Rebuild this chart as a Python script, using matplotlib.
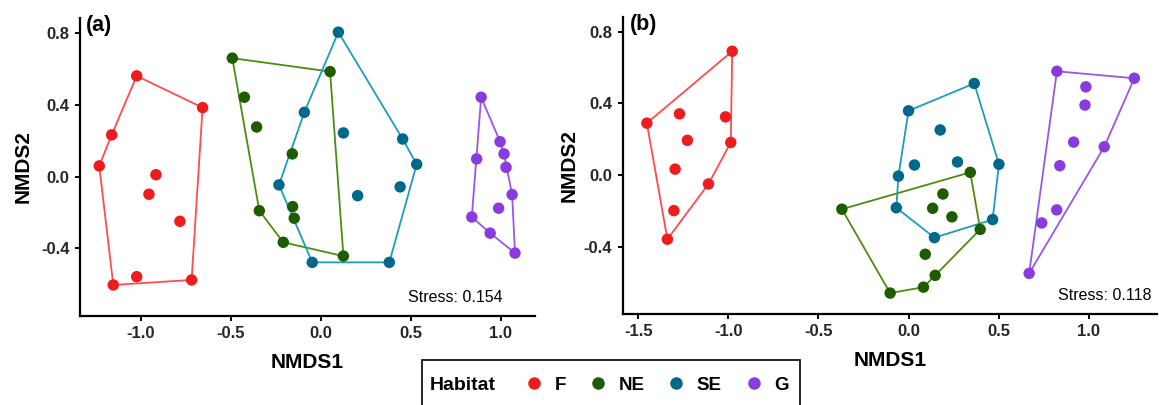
import numpy as np
import matplotlib
matplotlib.use('Agg')
import matplotlib.pyplot as plt
from matplotlib.patches import Polygon, Rectangle
from matplotlib.lines import Line2D

plt.rcParams['font.family'] = ['Liberation Sans', 'DejaVu Sans']

# NMDS scores, panel (a)
a_F_x = [-1.022, -0.656, -1.161, -1.230, -0.915, -0.954, -0.782, -1.022, -1.152, -0.717]
a_F_y = [0.562, 0.385, 0.233, 0.060, 0.011, -0.098, -0.249, -0.558, -0.604, -0.576]
a_NE_x = [-0.491, 0.052, -0.424, -0.356, -0.158, -0.341, -0.156, -0.147, -0.208, 0.126]
a_NE_y = [0.661, 0.586, 0.443, 0.277, 0.127, -0.190, -0.167, -0.232, -0.366, -0.443]
a_SE_x = [0.098, -0.091, 0.126, 0.455, 0.533, -0.232, 0.441, 0.205, -0.047, 0.381]
a_SE_y = [0.806, 0.359, 0.244, 0.210, 0.069, -0.046, -0.057, -0.106, -0.478, -0.478]
a_G_x = [0.891, 0.996, 1.018, 0.866, 1.029, 1.063, 0.988, 0.839, 0.941, 1.079]
a_G_y = [0.443, 0.195, 0.127, 0.099, 0.052, -0.100, -0.176, -0.225, -0.315, -0.426]

# panel (b)
b_F_x = [-0.979, -1.453, -1.272, -1.016, -1.228, -0.987, -1.296, -1.111, -1.303, -1.339]
b_F_y = [0.692, 0.290, 0.342, 0.325, 0.194, 0.182, 0.033, -0.050, -0.199, -0.359]
b_NE_x = [-0.370, 0.343, 0.191, 0.134, 0.241, 0.398, 0.093, 0.148, 0.083, -0.102]
b_NE_y = [-0.191, 0.015, -0.106, -0.186, -0.234, -0.304, -0.443, -0.561, -0.627, -0.660]
b_SE_x = [0.365, 0.000, 0.176, 0.033, 0.272, 0.502, -0.056, -0.068, 0.467, 0.144]
b_SE_y = [0.512, 0.359, 0.252, 0.056, 0.073, 0.060, -0.006, -0.183, -0.249, -0.350]
b_G_x = [0.824, 1.254, 0.985, 0.980, 0.917, 1.087, 0.840, 0.823, 0.740, 0.670]
b_G_y = [0.580, 0.541, 0.493, 0.391, 0.184, 0.158, 0.052, -0.195, -0.268, -0.550]

habitats = ['F', 'NE', 'SE', 'G']
stress = ['0.154', '0.118']
panel_tags = ['(a)', '(b)']
a_xticks = [-1.0, -0.5, 0.0, 0.5, 1.0]
b_xticks = [-1.5, -1.0, -0.5, 0.0, 0.5, 1.0]
yticks = [-0.4, 0.0, 0.4, 0.8]

pt_cols = ['#ee1c1c', '#1e5c00', '#00688b', '#8a3bdf']
line_cols = ['#ff4c4c', '#4e8c10', '#1c9cc0', '#9b55e8']


# convex hull (monotone chain), like chull() in R
def hull(xs, ys):
    pts = sorted(set(zip(xs, ys)))

    def cross(o, a, b):
        return (a[0] - o[0]) * (b[1] - o[1]) - (a[1] - o[1]) * (b[0] - o[0])

    lower = []
    for p in pts:
        while len(lower) >= 2 and cross(lower[-2], lower[-1], p) <= 0:
            lower.pop()
        lower.append(p)
    upper = []
    for p in reversed(pts):
        while len(upper) >= 2 and cross(upper[-2], upper[-1], p) <= 0:
            upper.pop()
        upper.append(p)
    return np.array(lower[:-1] + upper[:-1])


def draw_panel(ax, groups, xlim, xticks, tag, st, ylab_x, st_x):
    for i, (gx, gy) in enumerate(groups):
        ax.add_patch(Polygon(hull(gx, gy), closed=True, fill=False,
                             edgecolor=line_cols[i], linewidth=1.3, zorder=2))
        ax.scatter(gx, gy, s=68, color=pt_cols[i], edgecolors='none', zorder=3)
    ax.set_xlim(xlim)
    ax.set_ylim(-0.777, 0.885)
    ax.set_xticks(xticks)
    ax.set_yticks(yticks)
    ax.set_xticklabels(['%.1f' % v for v in xticks])
    ax.set_yticklabels(['%.1f' % v for v in yticks])
    for s in ['top', 'right']:
        ax.spines[s].set_visible(False)
    for s in ['left', 'bottom']:
        ax.spines[s].set_linewidth(1.6)
    ax.tick_params(width=1.4, length=3.5, pad=4, labelsize=12, labelcolor='#262626')
    for lab in ax.get_xticklabels() + ax.get_yticklabels():
        lab.set_fontweight('bold')
    ax.set_xlabel('NMDS1', fontsize=15, fontweight='bold')
    ax.set_ylabel('NMDS2', fontsize=15, fontweight='bold')
    ax.xaxis.set_label_coords(0.5, -0.125)
    ax.yaxis.set_label_coords(ylab_x, 0.5)
    ax.text(0.013, 1.01, tag, transform=ax.transAxes, ha='left', va='top',
            fontsize=15.5, fontweight='bold', clip_on=False)
    ax.text(st_x, 0.062, 'Stress: ' + st, transform=ax.transAxes,
            ha='right', va='center', fontsize=11.5)


fig = plt.figure(figsize=(11.59, 4.05), dpi=100)
ax1 = fig.add_axes([0.069, 0.2198, 0.3926, 0.7358])
ax2 = fig.add_axes([0.5373, 0.2247, 0.461, 0.734])

draw_panel(ax1, [(a_F_x, a_F_y), (a_NE_x, a_NE_y), (a_SE_x, a_SE_y), (a_G_x, a_G_y)],
           (-1.337, 1.19), a_xticks, panel_tags[0], stress[0], -0.104, 0.929)
draw_panel(ax2, [(b_F_x, b_F_y), (b_NE_x, b_NE_y), (b_SE_x, b_SE_y), (b_G_x, b_G_y)],
           (-1.587, 1.38), b_xticks, panel_tags[1], stress[1], -0.082, 0.99)

# legend at the bottom, title on the left
fig.patches.append(Rectangle((422 / 1159, -0.05), (800 - 422) / 1159, 0.161,
                             transform=fig.transFigure, fill=False,
                             edgecolor='black', linewidth=1.2))
fig.text(430 / 1159, 0.049, 'Habitat', ha='left', va='center', fontsize=14,
         fontweight='bold')
handles = [Line2D([], [], linestyle='none', marker='o', markersize=9,
                  markerfacecolor=c, markeredgecolor='none') for c in pt_cols]
fig.legend(handles, habitats, loc='center left', bbox_to_anchor=(515 / 1159, 0.049),
           ncol=4, frameon=False, borderpad=0, handlelength=1.0, handletextpad=0.6,
           columnspacing=1.2, prop={'size': 13.5, 'weight': 'bold'})

plt.savefig('out.png', dpi=100)
